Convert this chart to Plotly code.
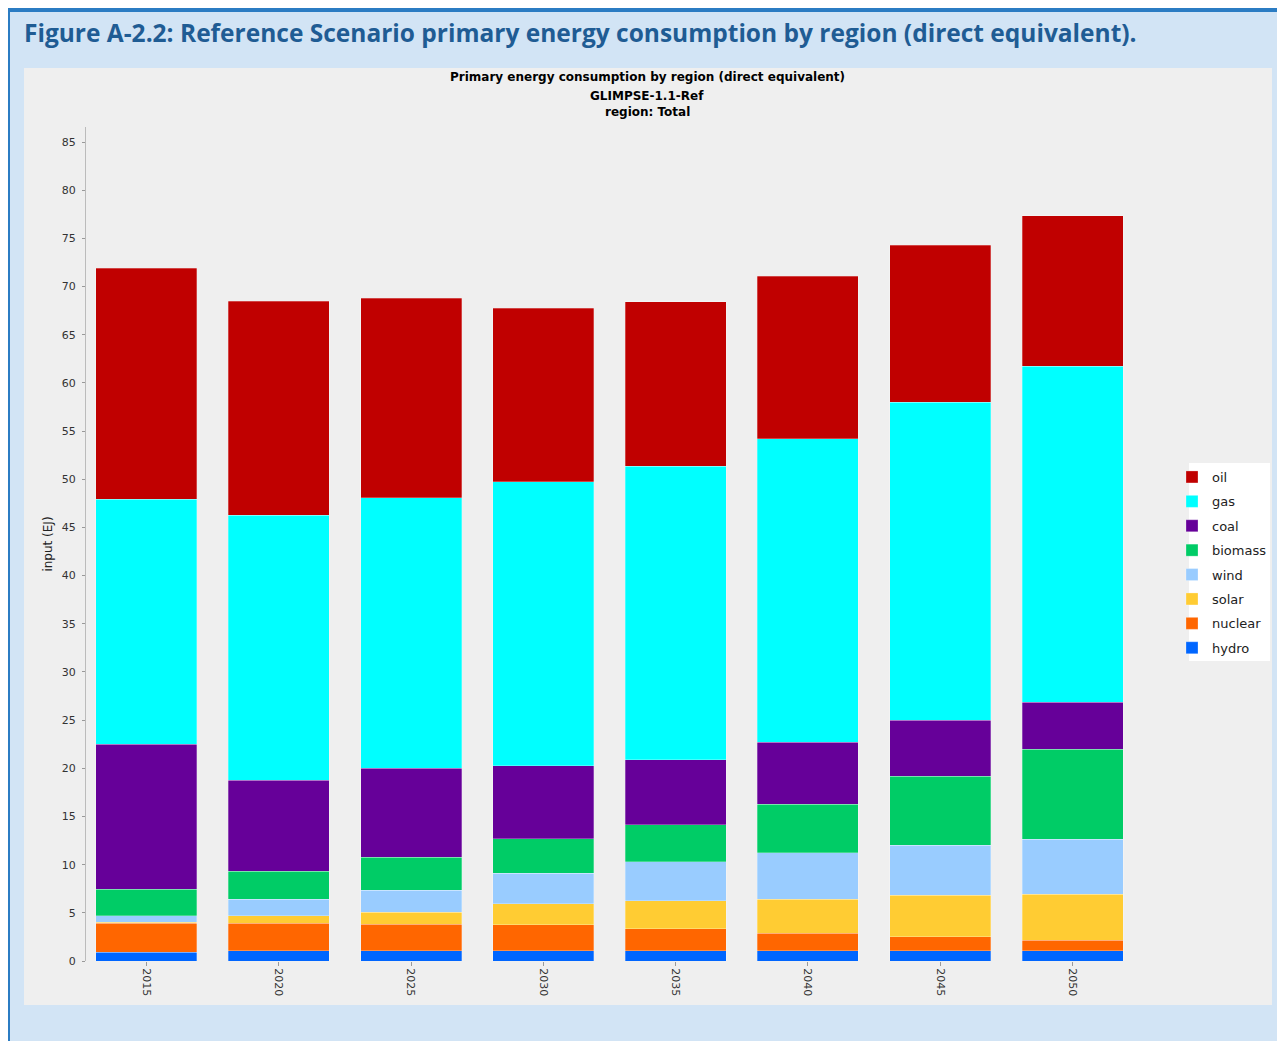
import plotly.graph_objects as go

years = ["2015", "2020", "2025", "2030", "2035", "2040", "2045", "2050"]

hydro   = [0.93, 1.04, 1.04, 1.04, 1.04, 1.04, 1.04, 1.04]
nuclear = [2.97, 2.90, 2.76, 2.70, 2.31, 1.83, 1.48, 1.10]
solar   = [0.10, 0.76, 1.25, 2.21, 2.91, 3.56, 4.29, 4.78]
wind    = [0.70, 1.73, 2.29, 3.15, 4.05, 4.78, 5.19, 5.71]
biomass = [2.77, 2.91, 3.42, 3.60, 3.81, 5.08, 7.16, 9.34]
coal    = [15.02, 9.41, 9.27, 7.57, 6.78, 6.41, 5.85, 4.88]
gas     = [25.46, 27.51, 28.06, 29.48, 30.44, 31.51, 32.97, 34.90]
oil     = [23.95, 22.21, 20.69, 17.99, 17.06, 16.85, 16.30, 15.60]

# stacking order bottom -> top
series = [
    ("hydro", hydro, "#0066FF"),
    ("nuclear", nuclear, "#FF6600"),
    ("solar", solar, "#FFCC33"),
    ("wind", wind, "#99CCFF"),
    ("biomass", biomass, "#00CC66"),
    ("coal", coal, "#660099"),
    ("gas", gas, "#00FFFF"),
    ("oil", oil, "#C00000"),
]

# the page body has an 8px default margin, so the figure is laid out in page coords - 8
OFF = 8
W, H = 1285 - OFF, 1041 - OFF
ML, MR, MT, MB = 86 - OFF, 107, 127 - OFF, 80
PW = W - ML - MR
PH = H - MT - MB


def px(x):
    """page x pixel -> paper fraction"""
    return (x - OFF - ML) / PW


def py(y):
    """page y pixel -> paper fraction"""
    return (H - MB - (y - OFF)) / PH


fig = go.Figure()
n = len(series)
for i, (name, vals, col) in enumerate(series):
    fig.add_trace(go.Bar(
        x=years, y=vals, name=name, legendgroup=name, legendrank=n - i,
        marker=dict(color=col, line=dict(width=0.6, color="rgba(255,255,255,0.45)")),
    ))

shapes = [
    dict(type="rect", xref="paper", yref="paper", x0=px(6), x1=px(1290), y0=py(8), y1=py(1045),
         fillcolor="#2B7CC3", line=dict(width=0), layer="below"),
    dict(type="rect", xref="paper", yref="paper", x0=px(10), x1=px(1290), y0=py(12), y1=py(1045),
         fillcolor="#D2E4F5", line=dict(width=0), layer="below"),
    dict(type="rect", xref="paper", yref="paper", x0=px(24), x1=px(1272), y0=py(68), y1=py(1005),
         fillcolor="#EFEFEF", line=dict(width=0), layer="below"),
    dict(type="rect", xref="paper", yref="paper", x0=px(1189), x1=px(1270), y0=py(463), y1=py(661),
         fillcolor="#FFFFFF", line=dict(width=0), layer="below"),
]

TITLE_FONT = dict(family="DejaVu Sans", size=12, color="#000000")
annotations = [
    dict(text="<b>Figure A-2.2: Reference Scenario primary energy consumption by region (direct equivalent).</b>",
         xref="paper", yref="paper", x=px(22), y=py(32), xanchor="left", yanchor="middle",
         showarrow=False, font=dict(family="Open Sans", size=24.5, color="#1F5C94")),
    dict(text="<b>Primary energy consumption by region (direct equivalent)</b>",
         xref="paper", yref="paper", x=px(647), y=py(77), xanchor="center", yanchor="middle",
         showarrow=False, font=TITLE_FONT),
    dict(text="<b>GLIMPSE-1.1-Ref</b>",
         xref="paper", yref="paper", x=px(647), y=py(96), xanchor="center", yanchor="middle",
         showarrow=False, font=TITLE_FONT),
    dict(text="<b>region: Total</b>",
         xref="paper", yref="paper", x=px(647), y=py(112), xanchor="center", yanchor="middle",
         showarrow=False, font=TITLE_FONT),
]

fig.update_layout(
    width=W, height=H,
    margin=dict(l=ML, r=MR, t=MT, b=MB),
    paper_bgcolor="#FFFFFF",
    plot_bgcolor="#FFFFFF",
    barmode="stack",
    bargap=0.237,
    shapes=shapes,
    annotations=annotations,
    legend=dict(
        x=px(1172), y=py(462), xanchor="left", yanchor="top",
        bgcolor="rgba(0,0,0,0)", traceorder="grouped", tracegroupgap=4.5,
        font=dict(family="DejaVu Sans", size=13, color="#222222"),
    ),
    xaxis=dict(
        type="category", range=[-0.457, 7.797],
        showgrid=False, showline=False, zeroline=False,
        ticks="outside", ticklen=4, tickcolor="#999999", tickangle=90,
        tickfont=dict(family="DejaVu Sans", size=11, color="#333333"),
    ),
    yaxis=dict(
        range=[0, 86.56], tickvals=list(range(0, 90, 5)),
        showgrid=False, zeroline=False, showline=True, linecolor="#BBBBBB", linewidth=1,
        ticks="outside", ticklen=3, tickcolor="#999999", ticklabelstandoff=4,
        tickfont=dict(family="DejaVu Sans", size=11, color="#333333"),
        title=dict(text="input (EJ)", standoff=6,
                   font=dict(family="DejaVu Sans", size=12, color="#222222")),
    ),
    showlegend=True,
)

fig.write_html("out.html")
